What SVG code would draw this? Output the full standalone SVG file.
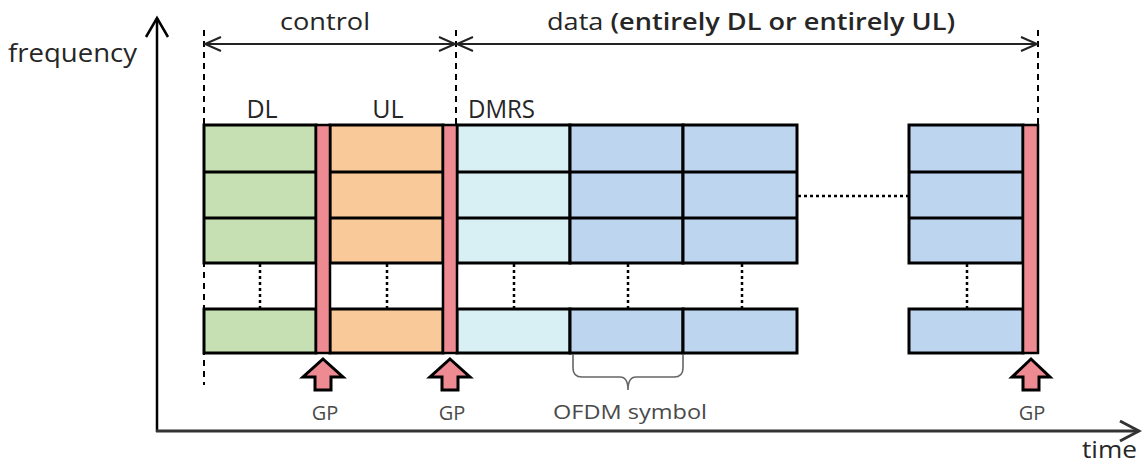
<svg xmlns="http://www.w3.org/2000/svg" width="1142" height="463" viewBox="0 0 1142 463">
  <defs>
    <style>
      .lbl { font-family: "Open Sans", "Liberation Sans", sans-serif; fill: #262626; }
      .small { font-family: "Open Sans", "Liberation Sans", sans-serif; fill: #4a4a4a; }
      .cell { stroke: #000; stroke-width: 3; }
      .dl { fill: #c6e0b4; }
      .ul { fill: #f9c99a; }
      .dmrs { fill: #d8eff3; }
      .data { fill: #bdd5ee; }
      .gp { fill: #ee8a92; stroke: #000; stroke-width: 2.5; }
      .div { stroke: #000; stroke-width: 3; fill: none; }
      .dash { stroke: #000; stroke-width: 2; stroke-dasharray: 6 5; fill: none; }
      .dot { stroke: #000; stroke-width: 2.5; stroke-dasharray: 3 3; fill: none; }
      .span { stroke: #222; stroke-width: 2; fill: none; }
      .gparrow { fill: #ee8a92; stroke: #000; stroke-width: 3; stroke-linejoin: miter; }
    </style>
    <marker id="chev" markerUnits="userSpaceOnUse" markerWidth="20" markerHeight="18" refX="17" refY="9" orient="auto-start-reverse">
      <path d="M1,2 L17,9 L1,16" fill="none" stroke="#222" stroke-width="2"/>
    </marker>
    <marker id="axisY" markerUnits="userSpaceOnUse" markerWidth="26" markerHeight="26" refX="21" refY="13" orient="auto">
      <path d="M2,2 L21,13 L2,24" fill="none" stroke="#000" stroke-width="2.5"/>
    </marker>
    <marker id="axisX" markerUnits="userSpaceOnUse" markerWidth="26" markerHeight="26" refX="22" refY="13" orient="auto">
      <path d="M3,3 L22,13 L3,23" fill="none" stroke="#333" stroke-width="3"/>
    </marker>
  </defs>

  <rect width="1142" height="463" fill="#fff"/>

  <!-- axes -->
  <g id="axes">
    <line x1="157" y1="432" x2="157" y2="18" stroke="#000" stroke-width="2.5" marker-end="url(#axisY)"/>
    <line x1="156" y1="431" x2="1139" y2="431" stroke="#333" stroke-width="3" marker-end="url(#axisX)"/>
    <text class="lbl" x="8" y="62" font-size="25" textLength="129" lengthAdjust="spacingAndGlyphs">frequency</text>
    <text class="lbl" x="1082" y="458" font-size="23" textLength="55" lengthAdjust="spacingAndGlyphs">time</text>
  </g>

  <!-- duration spans and boundaries -->
  <g id="spans">
    <line class="dash" x1="204" y1="30" x2="204" y2="385"/>
    <line class="dash" x1="456" y1="30" x2="456" y2="125"/>
    <line class="dash" x1="1038" y1="30" x2="1038" y2="125"/>
    <line class="span" x1="205" y1="44" x2="455" y2="44" marker-start="url(#chev)" marker-end="url(#chev)"/>
    <line class="span" x1="457" y1="44" x2="1037" y2="44" marker-start="url(#chev)" marker-end="url(#chev)"/>
    <text class="lbl" x="280" y="30" font-size="23" textLength="90" lengthAdjust="spacingAndGlyphs">control</text>
    <text class="lbl" x="547" y="30" font-size="23" textLength="408" lengthAdjust="spacingAndGlyphs">data <tspan font-weight="600">(entirely DL or entirely UL)</tspan></text>
  </g>

  <!-- region labels -->
  <g id="labels">
    <text class="lbl" x="262" y="118" font-size="25" text-anchor="middle">DL</text>
    <text class="lbl" x="388" y="118" font-size="25" text-anchor="middle">UL</text>
    <text class="lbl" x="468" y="118" font-size="25" textLength="67" lengthAdjust="spacingAndGlyphs">DMRS</text>
  </g>

  <!-- symbol columns -->
  <g id="col-dl">
    <rect class="cell dl" x="204" y="125" width="112" height="138"/>
    <line class="div" x1="204" y1="172" x2="316" y2="172"/>
    <line class="div" x1="204" y1="218" x2="316" y2="218"/>
    <rect class="cell dl" x="204" y="309" width="112" height="44"/>
  </g>
  <g id="col-ul">
    <rect class="cell ul" x="330" y="125" width="113" height="138"/>
    <line class="div" x1="330" y1="172" x2="443" y2="172"/>
    <line class="div" x1="330" y1="218" x2="443" y2="218"/>
    <rect class="cell ul" x="330" y="309" width="113" height="44"/>
  </g>
  <g id="col-dmrs">
    <rect class="cell dmrs" x="457" y="125" width="113" height="138"/>
    <line class="div" x1="457" y1="172" x2="570" y2="172"/>
    <line class="div" x1="457" y1="218" x2="570" y2="218"/>
    <rect class="cell dmrs" x="457" y="309" width="113" height="44"/>
  </g>
  <g id="col-data1">
    <rect class="cell data" x="570" y="125" width="113" height="138"/>
    <line class="div" x1="570" y1="172" x2="683" y2="172"/>
    <line class="div" x1="570" y1="218" x2="683" y2="218"/>
    <rect class="cell data" x="570" y="309" width="113" height="44"/>
  </g>
  <g id="col-data2">
    <rect class="cell data" x="683" y="125" width="114" height="138"/>
    <line class="div" x1="683" y1="172" x2="797" y2="172"/>
    <line class="div" x1="683" y1="218" x2="797" y2="218"/>
    <rect class="cell data" x="683" y="309" width="114" height="44"/>
  </g>
  <g id="col-last">
    <rect class="cell data" x="909" y="125" width="114" height="138"/>
    <line class="div" x1="909" y1="172" x2="1023" y2="172"/>
    <line class="div" x1="909" y1="218" x2="1023" y2="218"/>
    <rect class="cell data" x="909" y="309" width="114" height="44"/>
  </g>

  <!-- guard periods -->
  <g id="gp1">
    <rect class="gp" x="316" y="125" width="14" height="228"/>
    <path class="gparrow" d="M323,359 L343,377 L331,377 L331,390 L315,390 L315,377 L303,377 Z"/>
    <text class="small" x="325" y="420" font-size="20" text-anchor="middle">GP</text>
  </g>
  <g id="gp2">
    <rect class="gp" x="443" y="125" width="14" height="228"/>
    <path class="gparrow" d="M450,359 L470,377 L458,377 L458,390 L442,390 L442,377 L430,377 Z"/>
    <text class="small" x="452" y="420" font-size="20" text-anchor="middle">GP</text>
  </g>
  <g id="gp3">
    <rect class="gp" x="1023" y="125" width="15" height="228"/>
    <path class="gparrow" d="M1031,359 L1050,377 L1039,377 L1039,390 L1023,390 L1023,377 L1012,377 Z"/>
    <text class="small" x="1032" y="420" font-size="20" text-anchor="middle">GP</text>
  </g>

  <!-- continuation markers -->
  <g id="connectors">
    <line class="dot" x1="260" y1="264" x2="260" y2="308"/>
    <line class="dot" x1="387" y1="264" x2="387" y2="308"/>
    <line class="dot" x1="514" y1="264" x2="514" y2="308"/>
    <line class="dot" x1="628" y1="264" x2="628" y2="308"/>
    <line class="dot" x1="742" y1="264" x2="742" y2="308"/>
    <line class="dot" x1="967" y1="264" x2="967" y2="308"/>
    <line class="dot" x1="798" y1="196" x2="908" y2="196"/>
  </g>

  <!-- OFDM symbol brace -->
  <g id="ofdm-symbol">
    <path d="M573,354 L573,368 Q573,377 582,377 L620,377 Q628,377 628,390 Q628,377 636,377 L674,377 Q683,377 683,368 L683,354" fill="none" stroke="#666" stroke-width="1.6"/>
    <text class="small" x="553" y="419" font-size="20" textLength="154" lengthAdjust="spacingAndGlyphs">OFDM symbol</text>
  </g>
</svg>
